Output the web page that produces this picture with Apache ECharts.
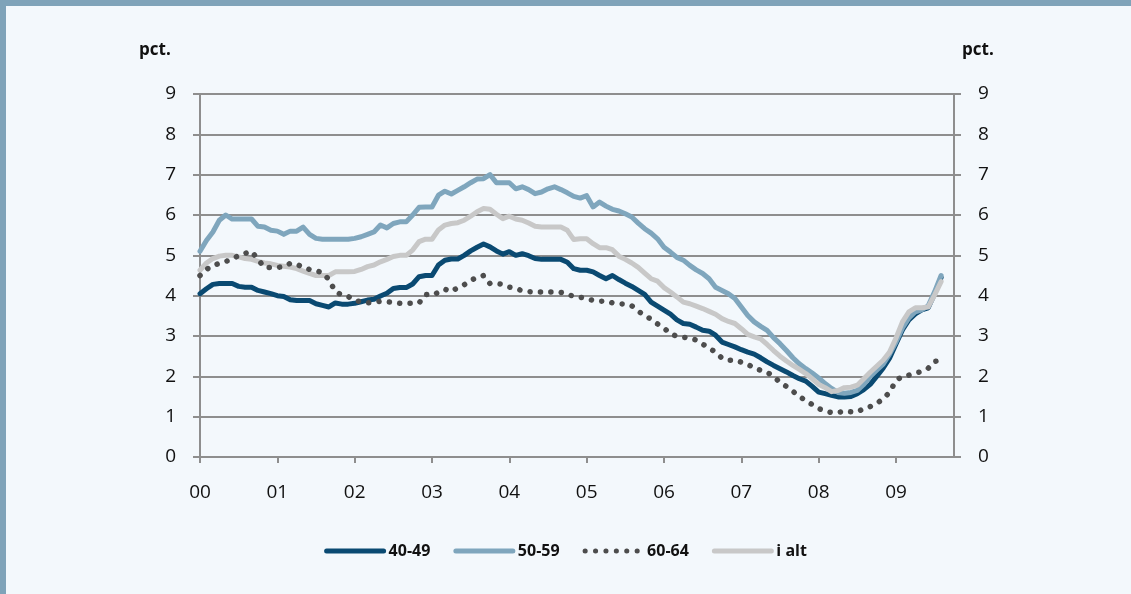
<!DOCTYPE html>
<html>
<head>
<meta charset="utf-8">
<title></title>
<script src="https://cdn.jsdelivr.net/npm/echarts@6/dist/echarts.min.js"></script>
<style>
html, body { margin: 0; padding: 0; background: #f3f8fc; }
#chart { width: 1131px; height: 594px; }
</style>
</head>
<body>
<div id="chart"></div>
<script>
// monthly values, jan 2000 - aug 2009 (index 0 = jan 2000)
var yearLabels = ['00', '01', '02', '03', '04', '05', '06', '07', '08', '09'];
var seriesNames = ['40-49', '50-59', '60-64', 'i alt'];

var age4049 = [
    4.05, 4.17, 4.28, 4.3, 4.3, 4.3, 4.23, 4.21, 4.21, 4.13, 4.09, 4.05,
    4.0, 3.98, 3.9, 3.88, 3.88, 3.88, 3.8, 3.76, 3.72, 3.82, 3.79, 3.79,
    3.81, 3.85, 3.89, 3.91, 3.99, 4.06, 4.18, 4.2, 4.2, 4.29, 4.47, 4.5,
    4.5, 4.76, 4.88, 4.91, 4.91, 5.0, 5.11, 5.2, 5.28, 5.21, 5.11, 5.03,
    5.09, 5.0, 5.04, 4.99, 4.92, 4.9, 4.9, 4.9, 4.9, 4.83, 4.67, 4.63,
    4.63, 4.59, 4.5, 4.42, 4.5, 4.4, 4.31, 4.23, 4.13, 4.03, 3.84, 3.74,
    3.64, 3.54, 3.4, 3.31, 3.29, 3.22, 3.14, 3.12, 3.02, 2.85, 2.79, 2.73,
    2.66, 2.6, 2.55, 2.46, 2.36, 2.27, 2.19, 2.11, 2.02, 1.94, 1.88, 1.75,
    1.61, 1.57, 1.53, 1.49, 1.49, 1.5, 1.57, 1.67, 1.8, 2.0, 2.2, 2.45,
    2.8, 3.15, 3.4, 3.55, 3.65, 3.7, 4.05, 4.45
];
var age5059 = [
    5.1, 5.37, 5.58, 5.87, 6.0, 5.9, 5.9, 5.9, 5.9, 5.72, 5.7, 5.62,
    5.6, 5.52, 5.6, 5.6, 5.7, 5.52, 5.42, 5.4, 5.4, 5.4, 5.4, 5.4,
    5.42, 5.46, 5.52, 5.58, 5.75, 5.68, 5.79, 5.83, 5.83, 6.0, 6.19, 6.2,
    6.2, 6.49, 6.59, 6.52, 6.61, 6.7, 6.8, 6.89, 6.9, 7.0, 6.8, 6.8,
    6.8, 6.65, 6.7, 6.63, 6.53, 6.57, 6.65, 6.7, 6.63, 6.55, 6.46, 6.42,
    6.48, 6.2, 6.32, 6.22, 6.14, 6.1, 6.03, 5.95, 5.8, 5.66, 5.55, 5.41,
    5.2, 5.08, 4.95, 4.88, 4.75, 4.64, 4.55, 4.42, 4.21, 4.13, 4.05, 3.93,
    3.72, 3.51, 3.35, 3.24, 3.14, 2.96, 2.81, 2.64, 2.46, 2.31, 2.19, 2.08,
    1.96, 1.82, 1.7, 1.6, 1.58, 1.6, 1.65, 1.8, 2.0, 2.15, 2.3, 2.55,
    2.85, 3.2, 3.45, 3.6, 3.65, 3.75, 4.1, 4.5
];
var age6064 = [
    4.5, 4.65, 4.75, 4.8, 4.85, 4.9, 5.0, 5.05, 5.1, 4.9, 4.7, 4.7,
    4.7, 4.72, 4.8, 4.78, 4.7, 4.65, 4.62, 4.57, 4.4, 4.1, 4.02, 3.98,
    3.88, 3.85, 3.82, 3.84, 3.86, 3.85, 3.83, 3.81, 3.81, 3.81, 3.82, 4.03,
    4.01, 4.08, 4.16, 4.1, 4.2, 4.27, 4.38, 4.45, 4.5, 4.3, 4.3, 4.28,
    4.21, 4.18, 4.12, 4.1, 4.09, 4.09, 4.09, 4.09, 4.08, 4.04, 3.98, 3.96,
    3.93, 3.88, 3.86, 3.87, 3.82, 3.8, 3.79, 3.75, 3.62, 3.5, 3.42, 3.3,
    3.2, 3.05, 3.0, 2.97, 2.95, 2.9, 2.8, 2.7, 2.6, 2.45, 2.4, 2.4,
    2.35, 2.3, 2.2, 2.15, 2.1, 2.0, 1.85, 1.75, 1.63, 1.5, 1.4, 1.3,
    1.2, 1.14, 1.1, 1.1, 1.14, 1.12, 1.12, 1.2, 1.25, 1.32, 1.45, 1.6,
    1.9, 2.0, 2.03, 2.08, 2.12, 2.2, 2.37, 2.4
];
var total = [
    4.63, 4.81, 4.92, 4.98, 5.0, 5.0, 4.96, 4.92, 4.9, 4.85, 4.81, 4.79,
    4.75, 4.73, 4.71, 4.67, 4.61, 4.55, 4.5, 4.5, 4.5, 4.59, 4.59, 4.59,
    4.6, 4.65, 4.72, 4.76, 4.84, 4.9, 4.97, 5.0, 5.0, 5.13, 5.34, 5.4,
    5.4, 5.63, 5.75, 5.79, 5.81, 5.87, 5.97, 6.08, 6.16, 6.14, 6.02, 5.91,
    5.97, 5.9, 5.87, 5.8, 5.72, 5.7, 5.7, 5.7, 5.7, 5.62, 5.39, 5.41,
    5.41, 5.29, 5.19, 5.19, 5.14, 4.98, 4.9, 4.81, 4.7, 4.56, 4.42, 4.36,
    4.2, 4.09, 3.97, 3.84, 3.8, 3.74, 3.68, 3.61, 3.54, 3.43, 3.36, 3.31,
    3.18, 3.04, 2.98, 2.93, 2.79, 2.64, 2.5, 2.38, 2.27, 2.17, 2.07, 1.94,
    1.8, 1.72, 1.62, 1.65, 1.72, 1.73, 1.78, 1.94, 2.1, 2.25, 2.4, 2.6,
    2.95, 3.35, 3.6, 3.7, 3.7, 3.72, 4.02, 4.35
];

function pairs(arr) {
    return arr.map(function(v, i) { return [i, v]; });
}

var font = '"Open Sans", "Noto Sans", sans-serif';
var gridColor = '#8e8e8e';
var frameColor = '#7fa3b9';

var myChart = echarts.init(document.getElementById('chart'));

var yAxisBase = {
    type: 'value',
    min: 0,
    max: 9,
    interval: 1,
    axisLine: { show: true, lineStyle: { color: gridColor, width: 2 } },
    axisTick: { show: true, length: 7, lineStyle: { color: gridColor, width: 2 } },
    axisLabel: { margin: 24, fontFamily: font, fontSize: 19, color: '#111' }
};

var option = {
    backgroundColor: '#f3f8fc',
    animation: false,
    graphic: [
        // frame: top band and left edge
        { type: 'rect', left: 0, top: 0, shape: { width: 1131, height: 6 }, style: { fill: frameColor } },
        { type: 'rect', left: 0, top: 0, shape: { width: 6, height: 594 }, style: { fill: frameColor } },
        { type: 'text', left: 139, top: 42, style: { text: 'pct.', font: 'bold 17px ' + font, fill: '#111' } },
        { type: 'text', left: 962, top: 42, style: { text: 'pct.', font: 'bold 17px ' + font, fill: '#111' } }
    ],
    grid: { left: 200, right: 177, top: 94, bottom: 137 },
    legend: {
        data: seriesNames,
        left: 'center',
        top: 538,
        itemWidth: 57,
        itemHeight: 16,
        itemGap: 23,
        itemStyle: { opacity: 0 },
        lineStyle: { width: 5, cap: 'round' },
        textStyle: { fontFamily: font, fontSize: 16, fontWeight: 'bold', color: '#111' }
    },
    xAxis: {
        type: 'value',
        min: 0,
        max: 117,
        interval: 12,
        splitLine: { show: false },
        axisLine: { lineStyle: { color: gridColor, width: 2 } },
        axisTick: { show: true, length: 6, lineStyle: { color: gridColor, width: 2 } },
        axisLabel: {
            margin: 26,
            fontFamily: font,
            fontSize: 19,
            color: '#111',
            showMaxLabel: false,
            formatter: function(v) {
                return v % 12 === 0 ? yearLabels[v / 12] : '';
            }
        }
    },
    yAxis: [
        Object.assign({}, yAxisBase, {
            position: 'left',
            splitLine: { show: true, lineStyle: { color: gridColor, width: 2 } }
        }),
        Object.assign({}, yAxisBase, {
            position: 'right',
            splitLine: { show: false }
        })
    ],
    series: [{
        name: '40-49',
        type: 'line',
        data: pairs(age4049),
        symbol: 'none',
        z: 2,
        color: '#0a4a72',
        lineStyle: { width: 5, color: '#0a4a72', cap: 'round', join: 'round' }
    }, {
        name: '50-59',
        type: 'line',
        data: pairs(age5059),
        symbol: 'none',
        z: 3,
        color: '#7fa6bd',
        lineStyle: { width: 5, color: '#7fa6bd', cap: 'round', join: 'round' }
    }, {
        name: '60-64',
        type: 'line',
        data: pairs(age6064),
        symbol: 'none',
        z: 5,
        color: '#4d4d4d',
        lineStyle: { width: 5.5, color: '#4d4d4d', type: [0.1, 10.3], cap: 'round' }
    }, {
        name: 'i alt',
        type: 'line',
        data: pairs(total),
        symbol: 'none',
        z: 4,
        color: '#c8c8c8',
        lineStyle: { width: 5, color: '#c8c8c8', cap: 'round', join: 'round' }
    }]
};

myChart.setOption(option);
addEventListener('resize', myChart.resize);
</script>
</body>
</html>
